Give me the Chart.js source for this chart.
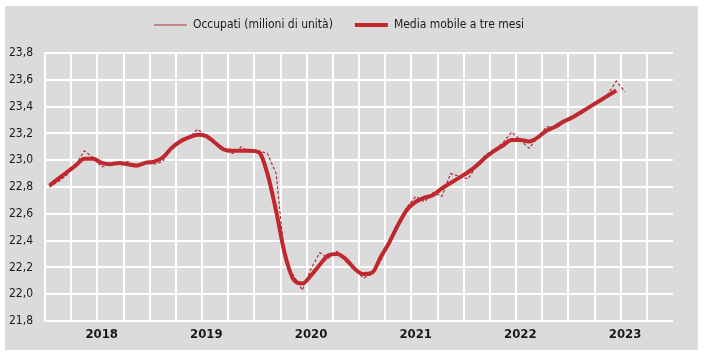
<!DOCTYPE html>
<html>
<head>
<meta charset="utf-8">
<script src="https://cdn.jsdelivr.net/npm/chart.js@4.4.0/dist/chart.umd.min.js"></script>
<style>
  html, body { margin: 0; padding: 0; background: #fff; }
  #panel { position: absolute; left: 5px; top: 6px; width: 693px; height: 344px; background: #dbdbdb; }
  canvas { display: block; }
</style>
</head>
<body>
<div id="panel"><canvas id="chart" width="693" height="344"></canvas></div>
<script>
// categories
const years = ['2018', '2019', '2020', '2021', '2022', '2023'];
const monthNums = ['01', '02', '03', '04', '05', '06', '07', '08', '09', '10', '11', '12'];

// Occupati (milioni di unità), Jan 2018 - Jul 2023
const occupati = [
  22.80, 22.84, 22.89, 22.96, 23.07, 23.02, 22.95, 22.97, 22.97, 22.99, 22.95, 22.98,
  22.97, 22.99, 23.10, 23.13, 23.17, 23.23, 23.18, 23.12, 23.08, 23.05, 23.10, 23.06,
  23.07, 23.05, 22.90, 22.25, 22.14, 22.03, 22.19, 22.31, 22.27, 22.32, 22.26, 22.19,
  22.12, 22.15, 22.25, 22.38, 22.52, 22.65, 22.73, 22.69, 22.76, 22.73, 22.90, 22.88,
  22.86, 22.96, 23.04, 23.08, 23.13, 23.21, 23.15, 23.09, 23.17, 23.25, 23.24, 23.28,
  23.32, 23.36, 23.40, 23.44, 23.49, 23.59, 23.51
];

// Media mobile a tre mesi, Jan 2018 - Jun 2023
const mediaMobile = [
  22.81, 22.86, 22.91, 22.96, 23.01, 23.01, 22.98, 22.97, 22.98, 22.97, 22.96, 22.98,
  22.99, 23.02, 23.09, 23.14, 23.17, 23.19, 23.18, 23.13, 23.08, 23.07, 23.07, 23.07,
  23.06, 22.90, 22.62, 22.30, 22.11, 22.08, 22.14, 22.22, 22.29, 22.30, 22.26, 22.19,
  22.15, 22.16, 22.28, 22.39, 22.52, 22.63, 22.69, 22.72, 22.74, 22.79, 22.83, 22.87,
  22.91, 22.96, 23.02, 23.07, 23.11, 23.15, 23.15, 23.14, 23.17, 23.22, 23.25, 23.29,
  23.32, 23.36, 23.40, 23.44, 23.48, 23.52
];

// y axis
const yMin = 21.8;
const yMax = 23.8;
const yStep = 0.2;

const months = [];
years.forEach(y => monthNums.forEach(m => months.push(y + '-' + m)));

const FONT = "'Liberation Sans Narrow', 'Arial Narrow', 'DejaVu Sans Condensed', 'Liberation Sans', Arial, sans-serif";
const TEXT = '#1a1a1a';
const GRID = '#ffffff';

// legend sits higher than Chart.js puts it and leaves a gap above the plot
const legendPlacer = {
    id: 'legendPlacer',
    beforeLayout(chart) {
        const legend = chart.legend;
        if (legend && !legend._placed) {
            const fit = legend.fit;
            legend.fit = function () {
                fit.call(this);
                this.height = 47;
            };
            legend._placed = true;
        }
    },
    afterLayout(chart) {
        chart.legend.top = -9;
    }
};

new Chart(document.getElementById('chart'), {
    type: 'line',
    data: {
        labels: months,
        datasets: [
            {
                label: 'Occupati (milioni di unità)',
                data: occupati,
                borderColor: '#b02f3a',
                borderWidth: 1.2,
                borderDash: [3, 2],
                pointRadius: 0,
                tension: 0,
                fill: false
            },
            {
                label: 'Media mobile a tre mesi',
                data: mediaMobile,
                borderColor: '#c1272d',
                borderWidth: 4,
                pointRadius: 0,
                cubicInterpolationMode: 'monotone',
                fill: false
            }
        ]
    },
    options: {
        responsive: false,
        animation: false,
        devicePixelRatio: 1,
        layout: {
            padding: { left: 0, right: 25, top: 0, bottom: 0 }
        },
        plugins: {
            legend: {
                position: 'top',
                align: 'center',
                labels: {
                    usePointStyle: true,
                    pointStyle: 'line',
                    pointStyleWidth: 33,
                    padding: 22,
                    color: TEXT,
                    font: { family: FONT, size: 12 }
                }
            },
            tooltip: { enabled: false }
        },
        scales: {
            x: {
                type: 'category',
                offset: true,
                grid: {
                    offset: true,
                    drawTicks: false,
                    lineWidth: 2,
                    color: ctx => (ctx.index % 3 === 0 ? GRID : 'rgba(0,0,0,0)')
                },
                border: { display: false },
                ticks: {
                    autoSkip: false,
                    maxRotation: 0,
                    padding: 6,
                    color: TEXT,
                    font: { family: FONT, size: 13, weight: 'bold' },
                    callback: (value, index) => (index % 12 === 6 ? months[index].slice(0, 4) : '')
                },
                afterFit: scale => { scale.height = 29; }
            },
            y: {
                min: yMin,
                max: yMax,
                grid: {
                    drawTicks: false,
                    lineWidth: 2,
                    color: GRID
                },
                border: { display: false },
                ticks: {
                    stepSize: yStep,
                    padding: 12,
                    color: TEXT,
                    font: { family: FONT, size: 12 },
                    callback: value => value.toFixed(1).replace('.', ',')
                },
                afterFit: scale => { scale.width = 40; }
            }
        }
    },
    plugins: [legendPlacer]
});
</script>
</body>
</html>
